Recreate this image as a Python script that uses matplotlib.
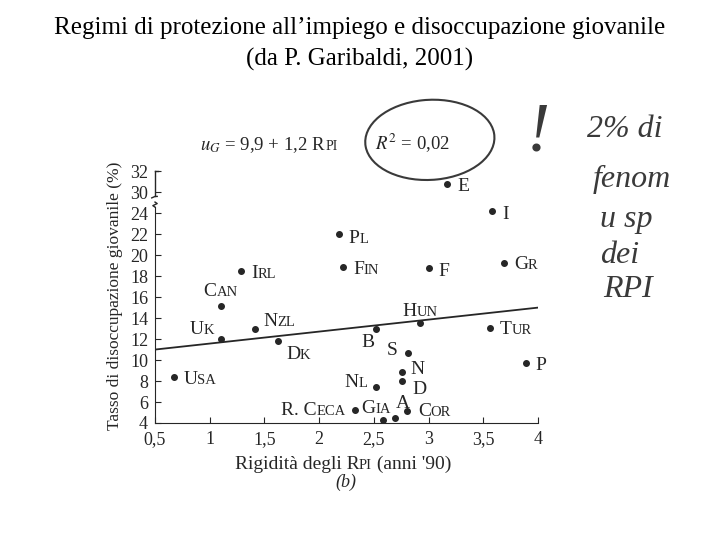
import numpy as np
import matplotlib
matplotlib.use("Agg")
import matplotlib.pyplot as plt
from matplotlib.patches import Ellipse

# data (Garibaldi 2001)
countries = ["USA", "UK", "CAN", "IRL", "NZL", "DK", "PL", "FIN", "F", "E", "I", "GR",
             "HUN", "B", "S", "TUR", "N", "D", "NL", "P", "R. CECA", "GIA", "A", "COR"]
rigidity = [0.67, 1.10, 1.10, 1.29, 1.41, 1.62, 2.18, 2.22, 3.00, 3.17, 3.58, 3.69,
            2.92, 2.52, 2.81, 3.56, 2.76, 2.76, 2.52, 3.89, 2.33, 2.58, 2.69, 2.80]
youth_unemp = [8.4, 12.0, 15.2, 18.5, 13.0, 11.8, 22.0, 18.9, 18.8, 30.8, 24.2, 19.3,
               13.5, 12.95, 10.7, 13.1, 8.9, 8.0, 7.4, 9.7, 5.2, 4.3, 4.5, 5.1]
# label offsets in points (dx, dy, ha)
offsets = {
    "USA": (7, 0, "left"), "UK": (-5, 9, "right"), "CAN": (0, 12, "center"),
    "IRL": (7, 0, "left"), "NZL": (6, 7, "left"), "DK": (6, -8, "left"),
    "PL": (7, -1, "left"), "FIN": (7, 0, "left"), "F": (7, -1, "left"),
    "E": (7, 0, "left"), "I": (7, -1, "left"), "GR": (7, 0, "left"),
    "HUN": (0, 10, "center"), "B": (-6, -8, "center"), "S": (-11, 3, "center"),
    "TUR": (7, 0, "left"), "N": (6, 3, "left"), "D": (7, -4, "left"),
    "NL": (-6, 5, "right"), "P": (7, 0, "left"), "R. CECA": (-7, 2, "right"),
    "GIA": (-5, 10, "center"), "A": (6, 12, "center"), "COR": (8, 2, "left"),
}
fit_x = [0.5, 4.0]
fit_y = [11.0, 15.0]
yticks = [4, 6, 8, 10, 12, 14, 16, 18, 20, 22, 24, 30, 32]
xticks = [0.5, 1, 1.5, 2, 2.5, 3, 3.5, 4]
xticklabels = ["0,5", "1", "1,5", "2", "2,5", "3", "3,5", "4"]

ink = "#262626"
pen = "#3a3a3a"
plt.rcParams["font.family"] = ["Liberation Serif", "DejaVu Serif"]
plt.rcParams["mathtext.fontset"] = "stix"


def fwd(y):
    y = np.asarray(y, dtype=float)
    return np.where(y <= 24.5, y, np.where(y < 29.5, 24.5 + (y - 24.5) * 0.2, y - 4))


def inv(v):
    v = np.asarray(v, dtype=float)
    return np.where(v <= 24.5, v, np.where(v < 25.5, 24.5 + (v - 24.5) * 5, v + 4))


fig = plt.figure(figsize=(7.2, 5.4), dpi=100)
ax = fig.add_axes([0.2153, 0.2167, 0.532, 0.472])
ax.set_yscale("function", functions=(fwd, inv))
ax.set_xlim(0.5, 4.0)
ax.set_ylim(4, 32.3)
renderer = fig.canvas.get_renderer()


def width_pt(s, size, **kw):
    t = fig.text(0, 0, s, fontsize=size, **kw)
    w = t.get_window_extent(renderer).width * 72 / fig.dpi
    t.remove()
    return w


def fig_pieces(x, y, pieces, ha="left", **kw):
    # draw text pieces of mixed size side by side, baseline at figure (x, y)
    widths = [(width_pt(s, sz, **kw) - 0.3) / 72 / fig.get_figwidth() for s, sz in pieces]
    total = sum(widths)
    x0 = x if ha == "left" else (x - total / 2 if ha == "center" else x - total)
    for (s, sz), w in zip(pieces, widths):
        fig.text(x0, y, s, fontsize=sz, va="baseline", ha="left", color=ink, **kw)
        x0 += w


ax.plot(fit_x, fit_y, color=ink, lw=1.3, zorder=2)
ax.scatter(rigidity, youth_unemp, s=16, color=ink, zorder=3, clip_on=False)

big_sz, small_sz = 14, 10.5
for c, x, y in zip(countries, rigidity, youth_unemp):
    dx, dy, ha = offsets[c]
    big, small = c[0], c[1:]
    if c == "R. CECA":
        big, small = "R. C", "ECA"
    w1 = width_pt(big, big_sz)
    w2 = width_pt(small, small_sz) if small else 0
    total = w1 + w2
    if ha == "left":
        x0 = dx
    elif ha == "right":
        x0 = dx - total
    else:
        x0 = dx - total / 2
    ax.annotate(big, (x, y), xytext=(x0, dy - 5), textcoords="offset points",
                fontsize=big_sz, color=ink, va="baseline", ha="left")
    if small:
        ax.annotate(small, (x, y), xytext=(x0 + w1, dy - 5), textcoords="offset points",
                    fontsize=small_sz, color=ink, va="baseline", ha="left")

# axes styling
for s in ["top", "right"]:
    ax.spines[s].set_visible(False)
ax.spines["left"].set_bounds(4, 24.9)
ax.spines["left"].set_color(ink)
ax.spines["bottom"].set_color(ink)
ax.set_yticks(yticks)
ax.set_yticklabels([str(v) for v in yticks])
ax.set_xticks(xticks)
ax.set_xticklabels(xticklabels)
ax.tick_params(direction="in", length=4, color=ink, labelcolor=ink, labelsize=13)
ax.tick_params(axis="x", pad=6)
ax.tick_params(axis="y", pad=5)

# broken y axis: upper segment and a small break squiggle
ax.plot([0.5, 0.5], [29.6, 32], color=ink, lw=1.0, clip_on=False)
ax.plot([0.5, 0.53], [32, 32], color=ink, lw=1.0, clip_on=False)
ax.plot([0.47, 0.5, 0.52], [29.3, 29.6, 29.6], color=ink, lw=1.0, clip_on=False)
ax.plot([0.5, 0.48, 0.52, 0.5], [24.9, 25.6, 26.6, 27.3], color=ink, lw=1.0, clip_on=False)

ax.set_ylabel("Tasso di disoccupazione giovanile (%)", fontsize=12.5, color=ink, labelpad=5)
fig_pieces(0.476, 0.132, [("Rigidità degli R", 14), ("PI", 10.5), (" (anni '90)", 14)],
           ha="center")
fig.text(0.481, 0.107, "(b)", fontsize=13, style="italic", color=ink, ha="center", va="center")

# equation and R^2 annotation
fig_pieces(0.278, 0.722, [("$u_G$ = 9,9 + 1,2 R", 13.5), ("PI", 10)])
fig.text(0.521, 0.722, "$R^2$ = 0,02", fontsize=13.5, color=ink, ha="left")

# hand-drawn marks on the scan
fig.add_artist(Ellipse((0.597, 0.741), 0.18, 0.148, angle=8, transform=fig.transFigure,
                       fill=False, lw=1.5, ec=pen))
fig.text(0.747, 0.752, "!", fontsize=50, color=pen, ha="center", va="center",
         style="italic")
hand = ["2% di", "fenom", "u sp", "dei", "RPI"]
hand_x = [0.868, 0.878, 0.87, 0.86, 0.872]
hand_y = [0.76, 0.667, 0.594, 0.527, 0.463]
for txt, xx, yy in zip(hand, hand_x, hand_y):
    fig.text(xx, yy, txt, fontsize=23, color=pen, ha="center", va="center",
             style="italic")

fig.text(0.5, 0.948, "Regimi di protezione all’impiego e disoccupazione giovanile",
         fontsize=18, ha="center", va="center", color="black")
fig.text(0.5, 0.889, "(da P. Garibaldi, 2001)", fontsize=18, ha="center", va="center",
         color="black")

fig.savefig("out.png", dpi=100)
